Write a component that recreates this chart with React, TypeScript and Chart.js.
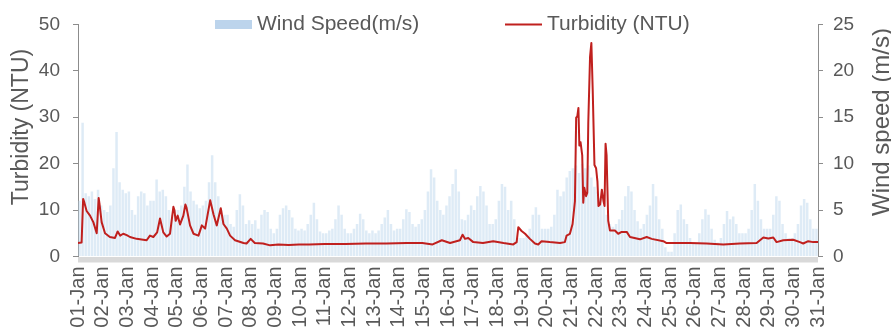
import React, { useEffect, useRef } from 'react';
import { Chart, registerables } from 'chart.js';

Chart.register(...registerables);

// Day tick labels (one tick every 24 hours)
const dayLabels = [
  '01-Jan', '02-Jan', '03-Jan', '04-Jan', '05-Jan', '06-Jan', '07-Jan', '08-Jan',
  '09-Jan', '10-Jan', '11-Jan', '12-Jan', '13-Jan', '14-Jan', '15-Jan', '16-Jan',
  '17-Jan', '18-Jan', '19-Jan', '20-Jan', '21-Jan', '22-Jan', '23-Jan', '24-Jan',
  '25-Jan', '26-Jan', '27-Jan', '28-Jan', '29-Jan', '30-Jan', '31-Jan',
];

// Wind speed (m/s), 3-hourly values, one row per day
const windValues = [
  6, 14.4, 6.8, 6.5, 7, 6.2, 7.2, 5.5,
  5, 4.8, 5.5, 9.5, 13.4, 8, 7.2, 6.8,
  7, 5, 4.5, 6.5, 7, 6.8, 5.5, 6,
  6, 8.3, 7, 7.2, 6.5, 5, 4.5, 5,
  5, 5.5, 7.5, 9.9, 7, 6, 5.6, 5.2,
  5.5, 6, 8, 10.9, 8, 6.5, 5, 4.5,
  4.5, 3.5, 3.2, 5, 6.7, 5.5, 3.5, 3.9,
  3.5, 3.9, 3, 4.5, 5, 4.8, 3, 2.5,
  3, 4.5, 5.2, 5.5, 5, 4.2, 3, 2.8,
  3, 2.8, 3.5, 4.5, 5.8, 4, 2.7, 2.5,
  2.5, 2.8, 3, 4, 5.5, 4.5, 3, 2.5,
  2.5, 3, 3.5, 4.6, 4, 2.8, 2.5, 2.8,
  2.5, 2.8, 3.5, 4.2, 5, 3.5, 2.8, 3,
  3, 4, 5.1, 4.8, 3.5, 3.2, 3.5, 4,
  5, 7, 9.4, 8.5, 6, 5, 4.5, 5.5,
  6.5, 7.8, 9.4, 7, 4, 3.9, 4.5, 5.5,
  5, 6.5, 7.6, 7, 5.5, 3.5, 3.5, 4,
  6, 7.8, 7.5, 5, 6, 4, 2, 2,
  2, 2.2, 3, 4.5, 5.3, 4.5, 3, 3,
  3, 3.2, 4.5, 7.2, 6.5, 7, 8.5, 9.2,
  9.5, 9.8, 9, 10, 9.5, 9.8, 8.5, 7.5,
  7, 6.3, 5.5, 4.5, 3.5, 3.2, 3.5, 4,
  5, 6.5, 7.6, 7, 5, 3.8, 3, 3.5,
  4.5, 5.5, 7.8, 6.5, 4, 3, 1, 0.5,
  0.5, 2.5, 5, 5.6, 4, 3.5, 2, 1.5,
  1.5, 2.5, 4, 5.1, 4.5, 3, 1.8, 1.5,
  2, 3.5, 4.9, 4, 4.3, 3.5, 2.5, 2.5,
  2.5, 3, 5, 7.8, 6, 4, 3, 3,
  3, 4.5, 6.5, 6, 3.5, 2.5, 2, 2,
  2.5, 3.5, 5.5, 6.2, 5.8, 4, 3, 3,
];
const windStepHours = 3;

// Turbidity (NTU): sample times (hours since 01-Jan 00:00) and values
const turbHours = [
  0, 3.5, 5, 6.2, 8.4, 11.7, 14.9, 18.2, 20.1, 21, 23, 26.3, 31, 36, 38.6, 41, 44, 47.4,
  50.6, 57, 66.8, 70, 73.3, 77, 79.8, 83, 86.3, 89.5, 92.8, 93.8, 95, 97, 99.3, 102.5,
  104.5, 105.5, 106.5, 109, 112.4, 117.2, 120.5, 123.7, 128.6, 129.6, 131.8, 135, 138.9, 141.5,
  144.8, 148, 152.8, 161, 164, 168, 172, 180, 187, 195, 205, 215, 225, 240, 260,
  280, 300, 320, 335, 345, 354, 362, 371.6, 374.2, 376.5, 379.7, 384.6, 394, 404,
  414, 423.5, 426.8, 428.4, 431.6, 435, 439.7, 444.6, 447.8, 451, 459, 469, 473.7,
  475.4, 478.6, 481.2, 483.5, 484.7, 485.8, 486.9, 487.8, 489, 490.6, 491.6, 492.6,
  494.3, 495.5, 496.5, 498.2, 499.5, 500.8, 502.5, 504.1, 505.4, 506.4, 508, 509.7,
  511.3, 512.3, 513.3, 514.3, 515.9, 517.6, 522.4, 525.6, 529, 533.9, 537.1, 546.8,
  553.3, 558.2, 569.5, 572.7, 595.4, 611.6, 627.8, 644, 660.3, 666.8, 671.7, 676.5,
  679.7, 686.2, 695.9, 702.4, 705.6, 710.5, 715.4, 720,
];
const turbValues = [
  2.9, 3.0, 12.4, 11.6, 9.8, 8.8, 7.4, 5.0, 12.6, 11.2, 7.4, 5.0, 4.2, 4.0, 5.4, 4.5, 4.9, 4.6,
  4.2, 3.8, 3.5, 4.5, 4.2, 5.2, 8.2, 5.2, 4.3, 4.9, 10.7, 10.0, 7.7, 8.8, 6.9, 8.8,
  11.2, 10.6, 9.5, 6.7, 4.9, 4.5, 6.7, 6.0, 12.1, 11.2, 9.1, 6.7, 10.4, 7.0,
  6.0, 4.5, 3.5, 2.9, 2.8, 3.8, 2.9, 2.8, 2.4, 2.6, 2.5, 2.6, 2.6, 2.7, 2.7,
  2.8, 2.8, 2.9, 2.9, 2.6, 3.5, 2.9, 3.5, 4.7, 3.8, 4.0, 3.1, 2.9, 3.3,
  2.9, 2.6, 3.1, 6.3, 5.5, 4.9, 3.8, 2.8, 2.6, 3.3, 3.1, 2.9, 3.1,
  4.5, 4.9, 7.0, 11.9, 29.9, 30.2, 32, 23.9, 24.6, 21.8, 11.6, 14.8,
  13.0, 13.7, 28.9, 43, 46, 35.9, 19.7, 19.0, 16.2, 10.9, 11.2, 14.4,
  11.9, 10.9, 24.3, 21.8, 7.7, 5.6, 5.6, 4.9, 5.3, 5.3, 4.2, 3.7,
  4.2, 3.8, 3.3, 2.9, 2.9, 2.8, 2.6, 2.8, 2.9, 4.1, 3.9, 4.1,
  3.1, 3.5, 3.6, 3.1, 2.8, 3.3, 3.1, 3.1,
];

const TEXT = '#595959';
const AXIS = '#8c8c8c';
const RED = '#c0201e';
const BAR = 'rgba(189,215,238,0.5)';
const SWATCH = '#bcd4ec';
const FAMILY = '"Liberation Sans", Arial, Helvetica, sans-serif';

export default function App() {
  const ref = useRef<HTMLCanvasElement>(null);

  useEffect(() => {
    const canvas = ref.current;
    if (!canvas) return;

    const windData = windValues.map((v, i) => ({ x: i * windStepHours + windStepHours / 2, y: v }));
    const turbData = turbHours.map((h, i) => ({ x: h, y: turbValues[i] }));

    const decor = {
      id: 'decor',
      afterDraw(chart: any) {
        const { ctx, chartArea } = chart;
        ctx.save();
        // grey base band under the plot
        ctx.fillStyle = '#d9d9d9';
        ctx.fillRect(chartArea.left, chartArea.bottom + 0.5, chartArea.right - chartArea.left, 5.5);

        // legend
        ctx.fillStyle = SWATCH;
        ctx.fillRect(215, 20, 37, 9);
        ctx.font = `21px ${FAMILY}`;
        ctx.fillStyle = TEXT;
        ctx.textBaseline = 'middle';
        ctx.textAlign = 'left';
        ctx.fillText('Wind Speed(m/s)', 257, 24.5);
        ctx.strokeStyle = RED;
        ctx.lineWidth = 2;
        ctx.beginPath();
        ctx.moveTo(505, 24.5);
        ctx.lineTo(542, 24.5);
        ctx.stroke();
        ctx.fillText('Turbidity (NTU)', 547, 24.5);

        // axis titles (both read bottom-to-top)
        ctx.textBaseline = 'alphabetic';
        ctx.textAlign = 'center';
        ctx.font = `23px ${FAMILY}`;
        ctx.save();
        ctx.translate(28, 127);
        ctx.rotate(-Math.PI / 2);
        ctx.fillText('Turbidity (NTU)', 0, 0);
        ctx.restore();
        ctx.font = `24px ${FAMILY}`;
        ctx.save();
        ctx.translate(889, 122);
        ctx.rotate(-Math.PI / 2);
        ctx.fillText('Wind speed (m/s)', 0, 0);
        ctx.restore();
        ctx.restore();
      },
    };

    const chart = new Chart(canvas, {
      type: 'bar',
      data: {
        datasets: [
          {
            type: 'line',
            label: 'Turbidity (NTU)',
            data: turbData,
            yAxisID: 'y',
            borderColor: RED,
            backgroundColor: RED,
            borderWidth: 2,
            borderJoinStyle: 'round',
            pointRadius: 0,
            tension: 0,
            order: 0,
          } as any,
          {
            type: 'bar',
            label: 'Wind Speed(m/s)',
            data: windData,
            yAxisID: 'y1',
            backgroundColor: BAR,
            borderWidth: 0,
            barPercentage: 0.8,
            categoryPercentage: 1,
            order: 1,
          } as any,
        ],
      },
      options: {
        responsive: false,
        animation: false,
        layout: { padding: { top: 20, left: 0, right: 0, bottom: 0 } },
        plugins: { legend: { display: false }, tooltip: { enabled: false }, title: { display: false } },
        scales: {
          x: {
            type: 'linear',
            min: 0,
            max: 720,
            offset: false,
            afterFit: (s: any) => { s.height = 74.5; },
            afterBuildTicks: (s: any) => { s.ticks = dayLabels.map((_, i) => ({ value: i * 24 })); },
            ticks: {
              autoSkip: false,
              maxRotation: 90,
              minRotation: 90,
              padding: 10,
              color: TEXT,
              font: { family: FAMILY, size: 20 },
              callback: (v: any) => dayLabels[Math.round(Number(v) / 24)] ?? '',
            },
            grid: { display: false, drawTicks: false, offset: false },
            border: { display: false },
          },
          y: {
            position: 'left',
            min: 0,
            max: 50,
            afterFit: (s: any) => { s.width = 78; },
            ticks: { stepSize: 10, padding: 13, color: TEXT, font: { family: FAMILY, size: 19 } },
            grid: { drawOnChartArea: false, drawTicks: true, tickLength: 5, color: AXIS },
            border: { display: true, color: AXIS, width: 1 },
          },
          y1: {
            position: 'right',
            min: 0,
            max: 25,
            afterFit: (s: any) => { s.width = 73; },
            ticks: { stepSize: 5, padding: 10, color: TEXT, font: { family: FAMILY, size: 19 } },
            grid: { drawOnChartArea: false, drawTicks: true, tickLength: 5, color: AXIS },
            border: { display: true, color: AXIS, width: 1 },
          },
        },
      } as any,
      plugins: [decor],
    });

    return () => chart.destroy();
  }, []);

  return (
    <div style={{ position: 'fixed', left: 0, top: 0, width: 891, height: 331, background: '#ffffff', overflow: 'hidden' }}>
      <canvas ref={ref} width={891} height={331} style={{ display: 'block', width: 891, height: 331 }} />
    </div>
  );
}
